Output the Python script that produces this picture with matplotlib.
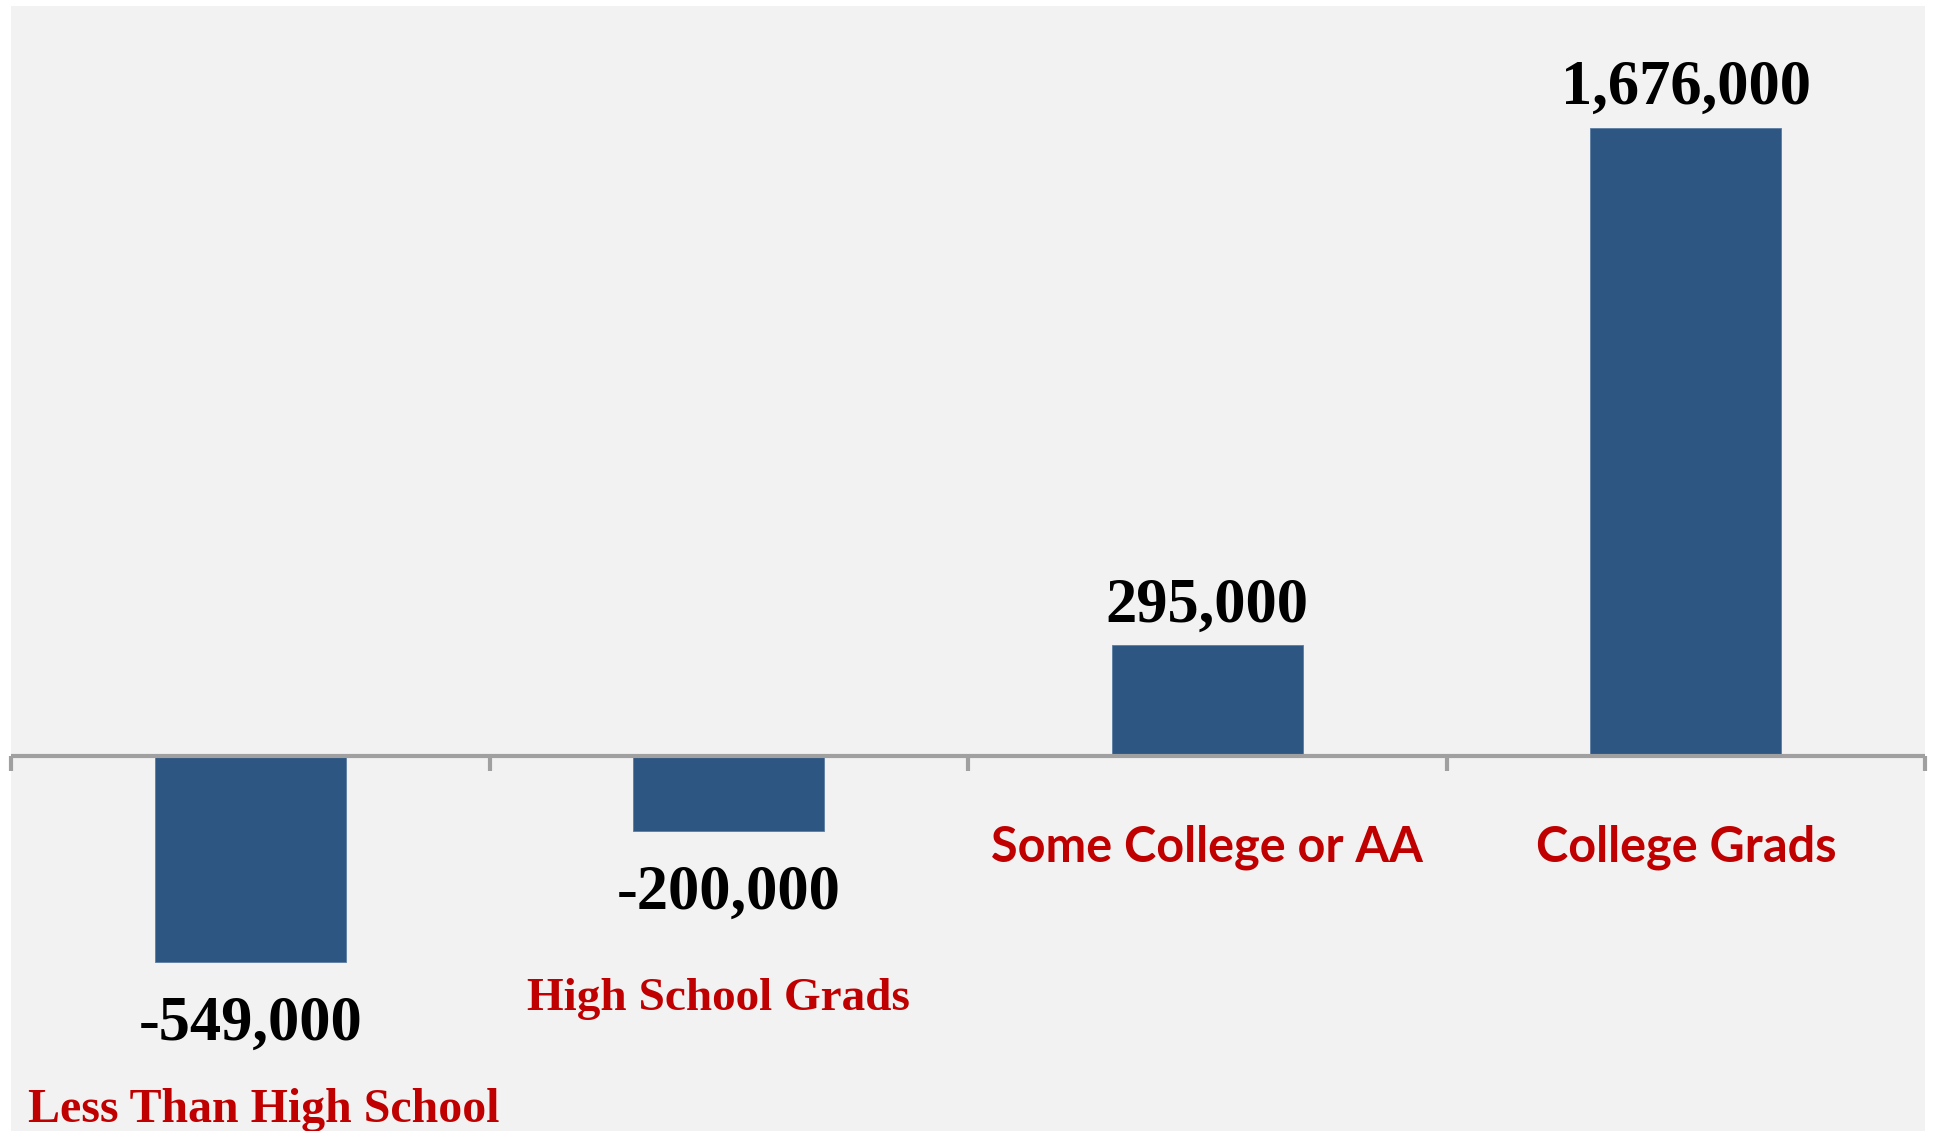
import numpy as np
import matplotlib.pyplot as plt

# Net change in employment by education level
categories = ['Less Than High School', 'High School Grads',
              'Some College or AA', 'College Grads']
changes = [-549000, -200000, 295000, 1676000]

bar_color = '#2D5682'
label_red = '#C00000'
serif = ['Liberation Serif', 'DejaVu Serif']
sans = ['Lato', 'Open Sans', 'DejaVu Sans']

fig = plt.figure(figsize=(19.37, 11.31), dpi=100)
ax = fig.add_axes([11 / 1937, 0, 1914 / 1937, 1 - 6 / 1131])
ax.set_facecolor('#F2F2F2')

x = np.arange(len(categories))
ax.bar(x, changes, width=0.4, color=bar_color, edgecolor='#5A7CA3',
       linewidth=0.6, zorder=2)

ax.set_xlim(-0.5, len(categories) - 0.5)
ax.set_ylim(-1000000, 2000000)

# horizontal axis through zero with ticks between categories
ax.axhline(0, color='#A0A0A0', linewidth=3, zorder=3)
for b in np.arange(-0.5, len(categories), 1.0):
    ax.plot([b, b], [0, -40000], color='#A0A0A0', linewidth=3,
            solid_capstyle='butt', zorder=3, clip_on=False)

for s in ax.spines.values():
    s.set_visible(False)
ax.set_xticks([])
ax.set_yticks([])

# value labels above/below bars
for xi, v in zip(x, changes):
    offset = 24 if v > 0 else -78
    ax.annotate(f'{v:,}', xy=(xi, v), xytext=(0, offset),
                textcoords='offset pixels', ha='center', va='baseline',
                fontsize=45, fontweight='bold', family=serif)

# category labels: the first two in serif, the last two in sans
cat_offsets = [(14, -366), (-10, -254), (0, -106), (0, -106)]
cat_fonts = [(serif, 34.5), (serif, 34), (sans, 35), (sans, 35)]
for xi, name, off, (fam, size) in zip(x, categories, cat_offsets, cat_fonts):
    ax.annotate(name, xy=(xi, 0), xytext=off,
                textcoords='offset pixels', ha='center', va='baseline',
                fontsize=size, fontweight='bold', family=fam,
                color=label_red, annotation_clip=False)

fig.savefig('out.png', dpi=100)
